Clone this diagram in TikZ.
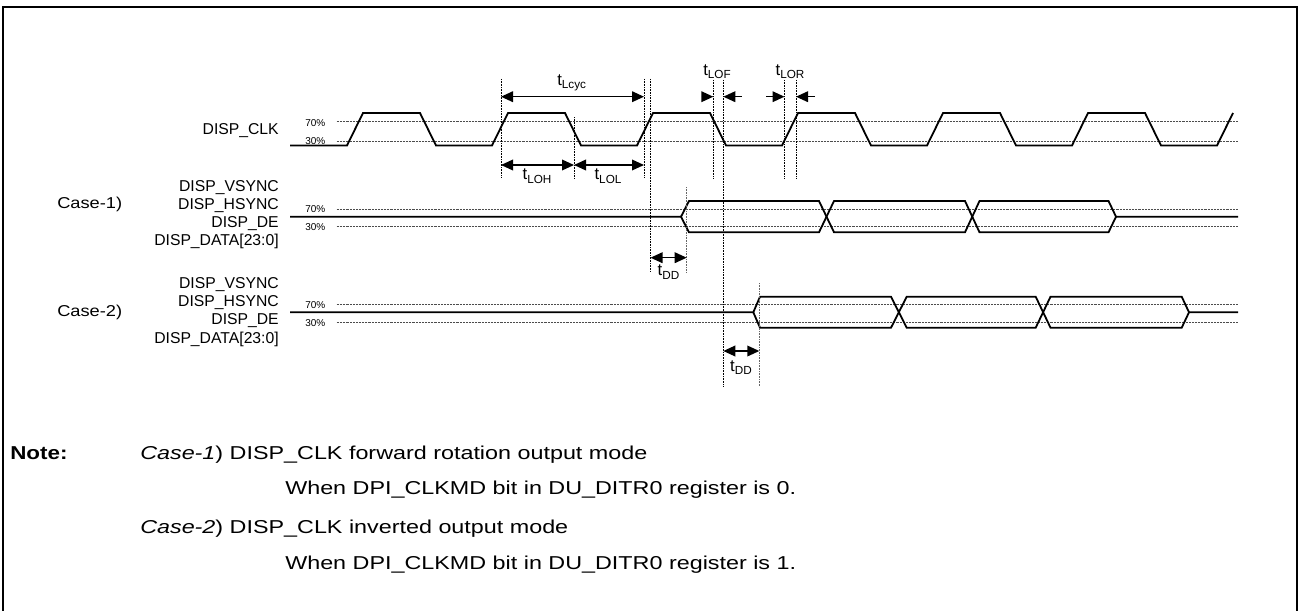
\documentclass[tikz,border=0pt]{standalone}
\usepackage{fontspec}
\setmainfont{Liberation Sans}
\usetikzlibrary{arrows.meta}
\newcommand\tmsub[1]{t\raisebox{-0.4ex}{\fontsize{8.8}{10}\selectfont #1}}
\begin{document}
\begin{tikzpicture}[x=0.75pt,y=-0.75pt,
  wave/.style={line width=1.35pt, line join=miter},
  lvl/.style={line width=0.55pt, black!70, dash pattern=on 0.5pt off 0.6pt},
  refl/.style={line width=0.5pt, dash pattern=on 0.6pt off 0.6pt},
  dimar/.style={line width=1.1pt, {Triangle[length=9pt,width=8pt]}-{Triangle[length=9pt,width=8pt]}},
  onear/.style={line width=1.1pt, -{Triangle[length=9pt,width=8pt]}},
  sig/.style={anchor=east, inner sep=0pt, font=\fontsize{11.8}{14}\selectfont},
  pct/.style={anchor=west, inner sep=0pt, font=\fontsize{7.5}{9}\selectfont},
  tl/.style={inner sep=0pt, font=\fontsize{12.5}{14}\selectfont},
  notetxt/.style={anchor=base west, inner sep=0pt, font=\fontsize{14}{17}\selectfont},
]
\useasboundingbox (0,0) rectangle (1298,610);
% frame
\draw[line width=1.3pt] (3,612) -- (3,7) -- (1297,7) -- (1297,612);

% ---------------- DISP_CLK ----------------
\node[sig] (clk) at (279,131) {DISP\_CLK};
\node[pct] (c70) at (305,123) {70\%};
\node[pct] (c30) at (305,141) {30\%};
\draw[lvl] (336.7,121.5) -- (1238,121.5);
\draw[lvl] (336.7,141.3) -- (1238,141.3);
\draw[wave] (290,145.5) -- (347,145.5) -- (363,113) -- (420,113) -- (436,145.5)
  -- (492,145.5) -- (508,113) -- (565,113) -- (581,145.5)
  -- (637,145.5) -- (653,113) -- (710,113) -- (726,145.5)
  -- (782,145.5) -- (798,113) -- (855,113) -- (871,145.5)
  -- (927,145.5) -- (943,113) -- (1000,113) -- (1016,145.5)
  -- (1072,145.5) -- (1088,113) -- (1145,113) -- (1161,145.5)
  -- (1217,145.5) -- (1233,113);

% ---------------- Case-1 ----------------
\node[anchor=west, inner sep=0pt] (case1) at (57,204.3) {\fontsize{11.8}{14}\selectfont\scalebox{1.16}[1]{Case-1)}};
\node[sig] (v1) at (279,188) {DISP\_VSYNC};
\node[sig] (h1) at (279,206) {DISP\_HSYNC};
\node[sig] (d1) at (279,223.5) {DISP\_DE};
\node[sig] (a1) at (279,241) {DISP\_DATA[23:0]};
\node[pct] (p170) at (305,209.3) {70\%};
\node[pct] (p130) at (305,226.7) {30\%};
\draw[lvl] (336.7,209.3) -- (1238,209.3);
\draw[lvl] (336.7,226.7) -- (1238,226.7);
\draw[wave] (290,216.7) -- (681,216.7) -- (689,201) -- (819,201) -- (834,232.3)
  -- (965,232.3) -- (979.5,201) -- (1108.5,201) -- (1116,216.7) -- (1238,216.7);
\draw[wave] (681,216.7) -- (689,232.3) -- (819,232.3) -- (834,201)
  -- (965,201) -- (979.5,232.3) -- (1108.5,232.3) -- (1116,216.7);

% ---------------- Case-2 ----------------
\node[anchor=west, inner sep=0pt] (case2) at (57,312) {\fontsize{11.8}{14}\selectfont\scalebox{1.16}[1]{Case-2)}};
\node[sig] (v2) at (279,285) {DISP\_VSYNC};
\node[sig] (h2) at (279,303) {DISP\_HSYNC};
\node[sig] (d2) at (279,321) {DISP\_DE};
\node[sig] (a2) at (279,339.5) {DISP\_DATA[23:0]};
\node[pct] (p270) at (305,305) {70\%};
\node[pct] (p230) at (305,323) {30\%};
\draw[lvl] (336.7,304.3) -- (1238,304.3);
\draw[lvl] (336.7,322.7) -- (1238,322.7);
\draw[wave] (290,312.3) -- (753.3,312.3) -- (760,296.7) -- (891,296.7) -- (906.7,327.7)
  -- (1035.7,327.7) -- (1050.5,296.7) -- (1181.7,296.7) -- (1189,312.3) -- (1238,312.3);
\draw[wave] (753.3,312.3) -- (760,327.7) -- (891,327.7) -- (906.7,296.7)
  -- (1035.7,296.7) -- (1050.5,327.7) -- (1181.7,327.7) -- (1189,312.3);

% ---------------- reference lines ----------------
\coordinate (cycL) at (501,96.7);
\coordinate (cycR) at (644,96.7);
\coordinate (ohL) at (501,165);
\coordinate (ohM) at (574,165);
\coordinate (ohR) at (644,165);
\coordinate (ofL) at (713.3,96.7);
\coordinate (ofR) at (723.3,96.7);
\coordinate (orL) at (784.5,96.7);
\coordinate (orR) at (796,96.7);
\coordinate (ddAL) at (650.5,257.7);
\coordinate (ddAR) at (686.7,257.7);
\coordinate (ddBL) at (723.3,351);
\coordinate (ddBR) at (759.3,351);

\draw[refl] (501,79) -- (501,178);
\draw[refl] (574,117) -- (574,178);
\draw[refl] (644,79) -- (644,178);
\draw[refl] (650.5,79) -- (650.5,272);
\draw[refl] (713.3,80) -- (713.3,178);
\draw[refl] (723.3,80) -- (723.3,386);
\draw[refl] (784.5,80) -- (784.5,178);
\draw[refl] (796,80) -- (796,178);
\draw[refl, black!60] (686.7,187) -- (686.7,272);
\draw[refl, black!60] (759.3,283) -- (759.3,386);

% ---------------- dimension arrows ----------------
\draw[dimar] (cycL) -- (cycR);
\node[tl] (tcyc) at (571.7,83) {\tmsub{Lcyc}};
\draw[dimar] (ohL) -- (ohM);
\draw[dimar] (ohM) -- (ohR);
\node[tl] (toh) at (537,176) {\tmsub{LOH}};
\node[tl] (tol) at (608,176) {\tmsub{LOL}};

\coordinate (ofA) at (701.7,96.7);
\coordinate (ofB) at (741.7,96.7);
\draw[onear] (ofA) -- (ofL);
\draw[onear] (ofB) -- (ofR);
\node[tl] (tof) at (717,71.7) {\tmsub{LOF}};

\coordinate (orA) at (766,96.7);
\coordinate (orB) at (815,96.7);
\draw[onear] (orA) -- (orL);
\draw[onear] (orB) -- (orR);
\node[tl] (tor) at (790,71.7) {\tmsub{LOR}};

\draw[dimar] (ddAL) -- (ddAR);
\node[tl] (tdd1) at (668.5,272) {\tmsub{DD}};
\draw[dimar] (ddBL) -- (ddBR);
\node[tl] (tdd2) at (741,367.5) {\tmsub{DD}};

% ---------------- notes ----------------
\node[notetxt] (nlab) at (10,459) {\scalebox{1.2}[1]{\bfseries Note:}};
\node[notetxt] (n1) at (140,459) {\scalebox{1.25}[1]{\textit{Case-1}) DISP\_CLK forward rotation output mode}};
\node[notetxt] (n2) at (285,494) {\scalebox{1.25}[1]{When DPI\_CLKMD bit in DU\_DITR0 register is 0.}};
\node[notetxt] (n3) at (140,533) {\scalebox{1.25}[1]{\textit{Case-2}) DISP\_CLK inverted output mode}};
\node[notetxt] (n4) at (285,569) {\scalebox{1.25}[1]{When DPI\_CLKMD bit in DU\_DITR0 register is 1.}};
\end{tikzpicture}
\end{document}
